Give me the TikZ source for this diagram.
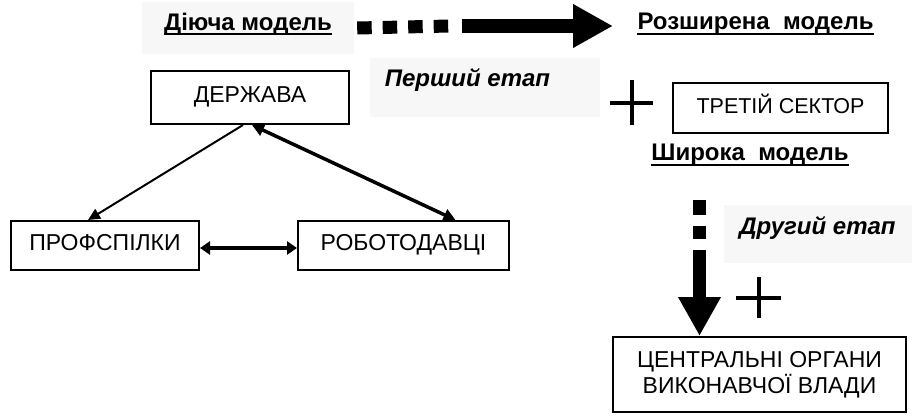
\documentclass[tikz,border=0pt]{standalone}
\usepackage{fontspec}
\setmainfont{Liberation Sans}
\usetikzlibrary{positioning,calc,arrows.meta}

\tikzset{
  unit/.style={draw=black,line width=2pt,inner sep=0pt,align=center,font=\fontsize{23}{26}\selectfont},
  oneline/.style={text height=17pt,text depth=7pt},
  shade/.style={fill=black!3,draw=none,inner sep=0pt},
  title/.style={inner sep=0pt,font=\bfseries\fontsize{24}{26}\selectfont},
  stage/.style={inner sep=0pt,font=\bfseries\itshape\fontsize{24}{26}\selectfont},
  ul/.style={line width=1.8pt},
  link/.style={line width=2pt,-{Triangle[length=12pt,width=11pt]}},
  bilink/.style={line width=3.5pt,{Triangle[length=12pt,width=12pt]}-{Triangle[length=12pt,width=12pt]}},
  bigdash/.style={line width=13pt,dash pattern=on 14.5pt off 11pt},
  bigarrow/.style={line width=14pt,-{Triangle[length=40pt,width=41pt]}},
  cross/.style={line width=4pt}
}

\begin{document}
\begin{tikzpicture}[x=1pt,y=-1pt]
        \useasboundingbox (0,0) rectangle (912,415);
        % headings
        \node[shade,minimum width=212pt,minimum height=52pt] (dijucha) at (248,28) {};
        \node[title] (now) at (248,24) {Діюча модель};
        \node[title] (rozsh) at (755.5,24) {Розширена\ \ модель};
        \node[title] (shyr) at (750,155) {Широка\ \ модель};
        \foreach \t in {now,rozsh,shyr}
          \draw[ul] ([yshift=-4pt]\t.base west) -- ([yshift=-4pt]\t.base east);
        % stages
        \node[shade,minimum width=230pt,minimum height=59pt] (first) at (485,87.5) {};
        \node[stage] at (467.5,80) {Перший етап};
        \node[shade,minimum width=188pt,minimum height=58pt] (second) at (818,234) {};
        \node[stage] at (817.5,228) {Другий етап};
        % boxes
        \node[unit,oneline,minimum width=198pt,minimum height=53pt] (derzh) at (250,97.5) {ДЕРЖАВА};
        \node[unit,oneline,minimum width=188pt,minimum height=49pt] (prof) at (105,245.5) {ПРОФСПІЛКИ};
        \node[unit,oneline,minimum width=211pt,minimum height=49pt] (robo) at (403.5,245.5) {РОБОТОДАВЦІ};
        \node[unit,oneline,minimum width=215pt,minimum height=50pt,font=\fontsize{21.5}{24}\selectfont]
            (sector) at (780.5,108) {ТРЕТІЙ СЕКТОР};
        \node[unit,minimum width=293pt,minimum height=75pt] (centr) at (759.5,374.5)
            {ЦЕНТРАЛЬНІ ОРГАНИ\\ВИКОНАВЧОЇ ВЛАДИ};
        % triangle
        \draw[link] ([xshift=-7pt]derzh.south) -- ([xshift=-17pt]prof.north);
        \draw[bilink] ([xshift=2pt]derzh.south) -- ([xshift=52pt]robo.north);
        \draw[line width=4pt,{Triangle[length=10pt,width=13pt]}-{Triangle[length=10pt,width=13pt]}]
            ([yshift=-2.5pt]prof.east) -- ([yshift=-2.5pt]robo.east -| robo.west);
        % first stage arrow
        \coordinate (hstart) at ([xshift=3pt]dijucha.east);
        \coordinate (hmid) at (462,26);
        \draw[bigdash] (hstart) -- (450,26);
        \draw[bigarrow] (hmid) -- (613,26);
        % second stage arrow
        \coordinate (vstart) at (699.5,200);
        \coordinate (vmid) at (699.5,250);
        \draw[bigdash] (vstart) -- (699.5,239);
        \draw[line width=13pt,-{Triangle[length=39pt,width=40pt]}] (vmid) -- ([xshift=-60pt]centr.north);
        % plus signs
        \draw[cross] (610,103) -- (653,103) (632,80) -- (632,125);
        \draw[cross] (736,298) -- (781,298) (759,277) -- (759,318);
\end{tikzpicture}
\end{document}
